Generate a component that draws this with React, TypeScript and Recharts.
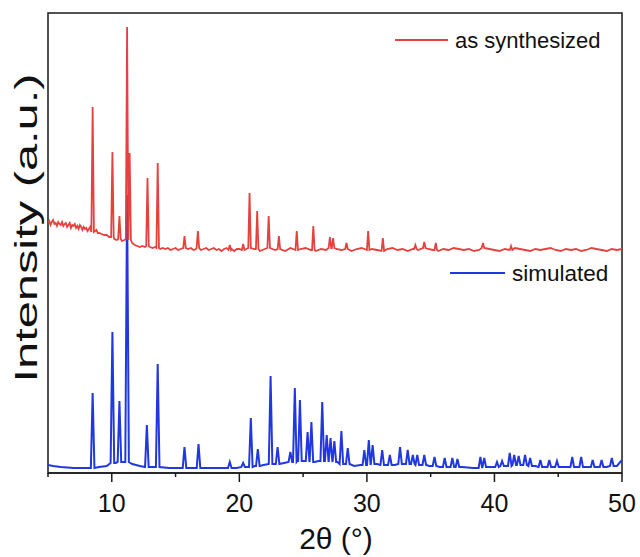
import React from 'react';
import { LineChart, Line, XAxis, YAxis } from 'recharts';

// ---- axis ticks ----
const xTicks = [5, 10, 15, 20, 25, 30, 35, 40, 45, 50];
const majorTicks = [10, 20, 30, 40, 50];

// ---- "as synthesized" (red) ----
const synPeakX = [8.5, 10.05, 10.6, 11.2, 11.4, 12.8, 13.6, 15.7, 16.75, 19.25, 20.3, 20.8, 21.4, 22.3, 23.1, 24.5, 25.8, 27.1, 27.35, 28.4, 30.1, 31.25, 33.8, 34.5, 35.4, 39.1, 41.3];
const synPeakY = [366, 321, 257, 446, 320, 295, 310, 237, 242, 228, 229, 280, 262, 257, 237, 242, 247, 236, 235, 230, 242, 235, 228, 231, 230, 230, 227];
// baseline samples: 5.0–8.9 (step 0.1)
const synBaseA = [250, 252, 248, 251, 253, 249, 250, 247, 251, 249, 248, 251, 247, 249, 250, 246, 248, 250, 245, 248, 247, 249, 245, 247, 244, 248, 246, 243, 246, 244, 245, 242, 244, 246, 243, 241, 244, 242, 243, 240];
// 9.0–19.8 (step 0.2)
const synBaseB = [240, 239, 238, 238, 236, 236, 234, 233, 234, 232, 233, 234, 233, 230, 228, 227, 226, 227, 226, 227, 226, 225, 226, 225, 224, 225, 224, 225, 223, 224, 225, 223, 224, 225, 223, 224, 225, 223, 224, 225, 223, 224, 225, 223, 224, 225, 223, 224, 222, 224, 225, 223, 224, 222, 224];
// 20.0–50.0 (step 0.4)
const synBaseC = [224, 223, 225, 224, 222, 224, 225, 223, 224, 222, 225, 223, 224, 225, 223, 222, 224, 223, 225, 224, 223, 224, 222, 224, 225, 223, 224, 223, 222, 224, 225, 223, 224, 222, 224, 223, 225, 224, 223, 222, 224, 223, 225, 224, 223, 224, 222, 223, 225, 224, 223, 222, 224, 223, 225, 224, 223, 222, 224, 223, 224, 225, 223, 222, 224, 223, 224, 222, 223, 225, 224, 223, 222, 224, 223, 224];

// ---- "simulated" (blue) ----
const simPeakX = [8.5, 10.05, 10.6, 11.2, 12.75, 13.6, 15.7, 16.8, 19.25, 20.3, 20.9, 21.45, 22.45, 23.0, 24.0, 24.35, 24.75, 25.35, 25.65, 26.5, 26.85, 27.15, 27.45, 28.0, 28.5, 29.8, 30.15, 30.45, 31.2, 31.8, 32.6, 33.2, 33.6, 33.95, 34.5, 35.3, 36.1, 36.7, 37.1, 38.9, 39.2, 40.2, 40.6, 41.2, 41.55, 41.9, 42.4, 42.8, 43.6, 44.3, 44.9, 46.1, 46.8, 47.7, 48.4, 49.2];
const simPeakY = [80, 141, 72, 278, 48, 109, 26, 29, 11, 10, 55, 24, 97, 26, 21, 85, 73, 41, 51, 71, 38, 35, 32, 42, 25, 23, 33, 28, 23, 18, 26, 23, 18, 18, 18, 16, 15, 15, 14, 16, 15, 11, 12, 20, 18, 17, 18, 15, 13, 13, 12, 16, 16, 13, 13, 15];
const simBaseX = [5.0, 5.4, 6.0, 7.0, 8.0, 9.0, 9.6, 10.3, 10.85, 11.6, 12.2, 13.2, 14.5, 15.2, 16.2, 17.5, 18.5, 19.8, 20.6, 21.2, 21.9, 22.8, 23.5, 24.2, 24.55, 25.05, 25.9, 26.2, 26.7, 27.7, 28.25, 29.0, 29.5, 30.8, 31.5, 32.2, 32.9, 33.4, 34.2, 34.9, 35.7, 36.4, 37.5, 38.3, 39.6, 40.0, 40.9, 42.1, 43.2, 43.9, 44.6, 45.5, 47.2, 48.0, 48.8, 49.6, 50.0];
const simBaseY = [8, 7, 6, 5, 5, 6, 7, 10, 11, 9, 7, 6, 5, 5, 5, 5, 5, 5, 6, 7, 8, 9, 10, 11, 12, 12, 11, 12, 12, 11, 9, 7, 8, 9, 8, 8, 9, 9, 8, 7, 6, 6, 6, 5, 6, 6, 7, 8, 7, 6, 6, 6, 6, 6, 6, 7, 13];

type Pt = { x: number; y: number };

function gridX(start: number, step: number, n: number): number[] {
  return Array.from({ length: n }, (_, i) => Math.round((start + i * step) * 100) / 100);
}

function buildSeries(baseX: number[], baseY: number[], peakX: number[], peakY: number[], w: number): Pt[] {
  const nearest = (x: number) => {
    let bi = 0;
    for (let i = 1; i < baseX.length; i++) if (Math.abs(baseX[i] - x) < Math.abs(baseX[bi] - x)) bi = i;
    return baseY[bi];
  };
  const pts: Pt[] = [];
  baseX.forEach((x, i) => {
    if (!peakX.some((p) => Math.abs(p - x) < w + 0.02)) pts.push({ x, y: baseY[i] });
  });
  peakX.forEach((p, i) => {
    const b = nearest(p);
    pts.push({ x: p - w, y: b }, { x: p, y: peakY[i] }, { x: p + w, y: b });
  });
  pts.sort((a, b) => a.x - b.x);
  return pts;
}

const synBaseX = [...gridX(5.0, 0.1, synBaseA.length), ...gridX(9.0, 0.2, synBaseB.length), ...gridX(20.0, 0.4, synBaseC.length)];
const synBaseY = [...synBaseA, ...synBaseB, ...synBaseC];
const synData = buildSeries(synBaseX, synBaseY, synPeakX, synPeakY, 0.1);
const simData = buildSeries(simBaseX, simBaseY, simPeakX, simPeakY, 0.14);

const RED = '#E5423F';
const BLUE = '#2138E0';
const AXIS = '#1a1a1a';
const FONT = '"Liberation Sans", Arial, Helvetica, sans-serif';

const XTick = (props: any) => {
  const { x, y, payload } = props;
  const major = majorTicks.includes(payload.value);
  return (
    <g>
      <line x1={x} y1={y} x2={x} y2={y + (major ? 9 : 4)} stroke={AXIS} strokeWidth={1.5} />
      {major && (
        <text x={x} y={y + 39} textAnchor="middle" fontSize={25} fontFamily={FONT} fill="#111">
          {payload.value}
        </text>
      )}
    </g>
  );
};

export default function App() {
  return (
    <div style={{ position: 'absolute', left: 0, top: 0, width: 640, height: 557, background: '#fff' }}>
      <LineChart width={640} height={557} margin={{ top: 13, right: 18, bottom: 0, left: 48 }}>
        <XAxis
          dataKey="x"
          type="number"
          domain={[5, 50]}
          allowDataOverflow
          ticks={xTicks}
          interval={0}
          tickSize={0}
          tickMargin={0}
          tickLine={false}
          tick={<XTick />}
          height={84}
          axisLine={{ stroke: AXIS, strokeWidth: 1.5 }}
        />
        <YAxis
          type="number"
          domain={[0, 460]}
          allowDataOverflow
          width={0}
          tick={false}
          tickLine={false}
          axisLine={{ stroke: AXIS, strokeWidth: 1.5 }}
        />
        <Line data={simData} dataKey="y" type="linear" stroke={BLUE} strokeWidth={2} dot={false} isAnimationActive={false} />
        <Line data={synData} dataKey="y" type="linear" stroke={RED} strokeWidth={1.8} dot={false} isAnimationActive={false} />
        <g>
          <rect x={48} y={13} width={574} height={460} fill="none" stroke={AXIS} strokeWidth={1.5} />
          <text x={336} y={549} textAnchor="middle" fontSize={30} fontFamily={FONT} fill="#111">2θ (°)</text>
          <text
            x={37}
            y={228}
            transform="rotate(-90 37 228)"
            textAnchor="middle"
            fontSize={32}
            fontFamily={FONT}
            fill="#111"
            textLength={309}
            lengthAdjust="spacingAndGlyphs"
          >
            Intensity (a.u.)
          </text>
          <line x1={395} y1={40} x2={448} y2={40} stroke={RED} strokeWidth={1.8} />
          <text x={455} y={48} fontSize={22} fontFamily={FONT} fill="#111">as synthesized</text>
          <line x1={450} y1={273} x2={505} y2={273} stroke={BLUE} strokeWidth={1.8} />
          <text x={512} y={281} fontSize={22.5} fontFamily={FONT} fill="#111">simulated</text>
        </g>
      </LineChart>
    </div>
  );
}
